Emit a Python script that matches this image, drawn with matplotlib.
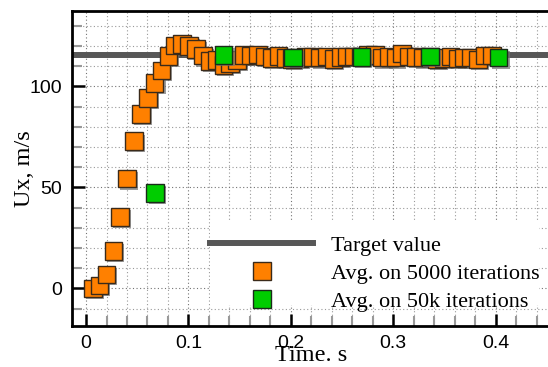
import numpy as np
import matplotlib
matplotlib.use('Agg')
from matplotlib import pyplot as plt
from matplotlib.lines import Line2D
from matplotlib.patches import Rectangle
import matplotlib.patheffects as pe

# time samples and averaged velocity (5000 iterations)
t_5000 = [0.0065, 0.0132, 0.0199, 0.0267, 0.0334, 0.0401, 0.0468, 0.0535, 0.0603, 0.0670,
          0.0737, 0.0804, 0.0871, 0.0939, 0.1006, 0.1073, 0.1140, 0.1207, 0.1275, 0.1342,
          0.1409, 0.1476, 0.1543, 0.1611, 0.1678, 0.1745, 0.1812, 0.1879, 0.1947, 0.2014,
          0.2081, 0.2148, 0.2215, 0.2283, 0.2350, 0.2417, 0.2484, 0.2551, 0.2619, 0.2686,
          0.2753, 0.2820, 0.2887, 0.2955, 0.3022, 0.3089, 0.3156, 0.3223, 0.3291, 0.3358,
          0.3425, 0.3492, 0.3559, 0.3627, 0.3694, 0.3761, 0.3828, 0.3895, 0.3963]
u_5000 = [0.0, 1.4, 6.9, 18.5, 35.3, 54.3, 72.8, 86.4, 94.3, 101.6,
          107.9, 114.9, 120.2, 121.0, 119.9, 118.4, 115.2, 112.4, 112.9, 110.7,
          111.5, 113.0, 115.5, 115.3, 115.8, 114.8, 114.1, 115.0, 114.1, 113.4,
          114.0, 114.8, 114.5, 114.2, 114.8, 113.4, 114.5, 114.8, 114.8, 114.8,
          115.5, 115.6, 114.2, 114.5, 114.2, 116.2, 114.8, 114.5, 114.2, 114.5,
          113.5, 114.0, 114.8, 113.8, 114.2, 114.2, 113.3, 115.3, 115.3]

# averaged on 50k iterations
t_50k = [0.0676, 0.1344, 0.2020, 0.2690, 0.3360, 0.4030]
u_50k = [47.2, 115.5, 114.3, 114.5, 114.8, 114.2]

target = 115.5
xlim = (-0.0137, 0.4512)
ylim = (-18.5, 137.3)

fig = plt.figure(figsize=(5.48, 3.67), dpi=100)
ax = fig.add_axes([0.1314, 0.1125, 0.8686, 0.8575])

shadow = [pe.SimplePatchShadow(offset=(1.5, -1.5), shadow_rgbFace='0.45', alpha=0.7), pe.Normal()]

ax.axhline(target, color='#575757', lw=4.3, zorder=2)
ax.plot(t_5000, u_5000, ls='none', marker='s', ms=12.7, mfc='#ff8000', mec='#3a2a1a',
        mew=1.0, zorder=3, path_effects=shadow)
ax.plot(t_50k, u_50k, ls='none', marker='s', ms=12.7, mfc='#00cc00', mec='#1a2a1a',
        mew=1.0, zorder=4, path_effects=shadow)

ax.set_xlim(*xlim)
ax.set_ylim(*ylim)
ax.set_xticks([0, 0.1, 0.2, 0.3, 0.4])
ax.set_xticklabels(['0', '0.1', '0.2', '0.3', '0.4'])
ax.set_xticks(np.arange(-0.0, 0.46, 0.02), minor=True)
ax.set_yticks([0, 50, 100])
ax.set_yticks(np.arange(-10, 140, 10), minor=True)

ax.set_axisbelow(True)
ax.grid(which='major', color='0.45', ls=(0, (1, 2.2)), lw=0.8)
ax.grid(which='minor', color='0.6', ls=(0, (1, 2.2)), lw=0.8)

ax.tick_params(which='major', direction='in', length=9, width=1.8, color='black',
               labelsize=14, pad=7)
ax.tick_params(which='minor', direction='in', length=7, width=1.5, color='0.6')
for lab in ax.get_xticklabels() + ax.get_yticklabels():
    lab.set_family('Liberation Sans')

for s in ['left', 'bottom', 'top']:
    ax.spines[s].set_linewidth(2.0)
ax.spines['right'].set_visible(False)

ax.set_xlabel('Time. s', family='Liberation Serif', fontsize=17.5)
ax.set_ylabel('Ux, m/s', family='Liberation Serif', fontsize=17.5)
ax.xaxis.set_label_coords(0.503, -0.06)
ax.yaxis.set_label_coords(-0.078, 0.5)

# white legend area
ax.add_patch(Rectangle((0.29, 0.066), 0.691, 0.27, transform=ax.transAxes,
                       facecolor='white', edgecolor='none', zorder=1))
handles = [Line2D([], [], color='#575757', lw=4.3),
           Line2D([], [], ls='none', marker='s', ms=12.7, mfc='#ff8000', mec='#3a2a1a', mew=1.0),
           Line2D([], [], ls='none', marker='s', ms=12.7, mfc='#00cc00', mec='#1a2a1a', mew=1.0)]
ax.legend(handles, ['Target value', 'Avg. on 5000 iterations', 'Avg. on 50k iterations'],
          loc='upper left', bbox_to_anchor=(0.29, 0.287), frameon=False, borderpad=0,
          borderaxespad=0, handlelength=4.65, handletextpad=0.8, labelspacing=0.33,
          prop={'family': 'Liberation Serif', 'size': 16})

fig.savefig('out.png', dpi=100)
